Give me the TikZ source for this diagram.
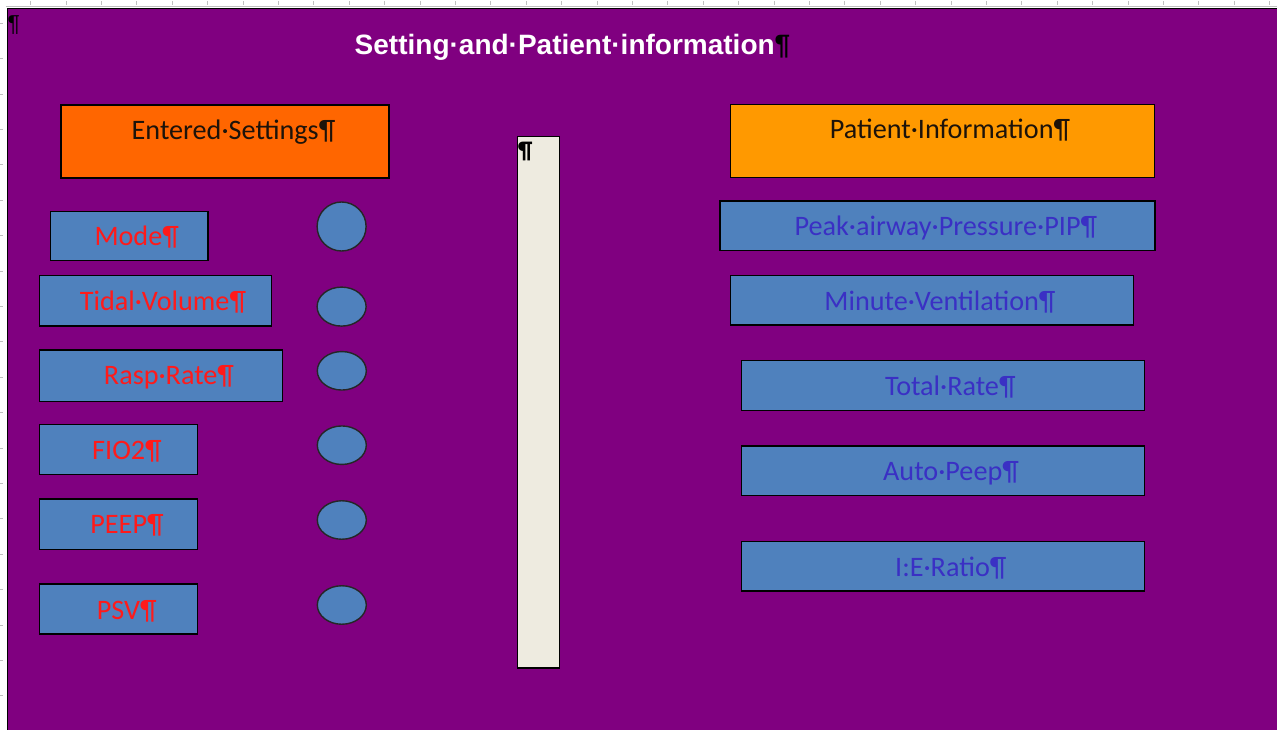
\documentclass[tikz,border=0pt]{standalone}
\usepackage{fontspec}
\usetikzlibrary{shapes.geometric}
\newfontfamily\calfont{Carlito}
\newfontfamily\arifont{Liberation Sans}
\definecolor{bgpurple}{HTML}{800080}
\definecolor{boxblue}{HTML}{4F81BD}
\definecolor{darkorange}{HTML}{FF6600}
\definecolor{lightorange}{HTML}{FF9900}
\definecolor{barbeige}{HTML}{EEEBE0}
\definecolor{txtred}{HTML}{FF1A1A}
\definecolor{txtblue}{HTML}{3A30C4}
\definecolor{rulergray}{HTML}{C0C0C0}
\tikzset{
  bbox/.style={draw=black, line width=1.4pt, inner sep=0pt, outer sep=0pt, anchor=north west, fill=boxblue},
  obox/.style={bbox, fill=darkorange},
  lobox/.style={bbox, fill=lightorange},
  dotshape/.style={draw=black!85, line width=1.4pt, fill=boxblue, ellipse, inner sep=0pt, outer sep=0pt},
  redtxt/.style={anchor=base, inner sep=0pt, text=txtred, font=\calfont\fontsize{28.2}{31}\selectfont},
  bluetxt/.style={anchor=base, inner sep=0pt, text=txtblue, font=\calfont\fontsize{28.2}{31}\selectfont},
  blacktxt/.style={anchor=base, inner sep=0pt, text=black!85!brown, font=\calfont\fontsize{28.2}{31}\selectfont},
  tick/.style={draw=rulergray, line width=1pt}
}
\begin{document}
\begin{tikzpicture}[x=1pt,y=-1pt]
\useasboundingbox (0,0) rectangle (1277,730);
\fill[white] (0,0) rectangle (1277,730);
% ruler ticks
\foreach \i in {0,...,35} { \draw[tick] ({30.7+35.4*\i},1) -- ({30.7+35.4*\i},5); }
\foreach \i in {0,...,19} { \draw[tick] (0,{23.3+35.4*\i}) -- (3,{23.3+35.4*\i}); }
\draw[rulergray, line width=1pt] (6,7) -- (1277,7);
% purple page
\fill[bgpurple] (7.3,8.3) rectangle (1277,730);
\draw[black, line width=1.5pt] (7.3,730) -- (7.3,8.3) -- (1277,8.3);
% corner pilcrow
\node[anchor=base west, inner sep=0pt, font=\arifont\fontsize{23}{26}\selectfont] (cornerpil) at (7.5,31.5) {¶};
% title
\node[anchor=base, inner sep=0pt, text=white, font=\arifont\bfseries\fontsize{28}{32}\selectfont] (title) at (572.5,54.3) {Setting·and·Patient·information{\color{black}¶}};
% header boxes
\node[obox, minimum width=328, minimum height=73] (entered) at (61,105) {};
\node[blacktxt] (tentered) at (233.5,140) {Entered·Settings¶};
\node[lobox, minimum width=423.5, minimum height=72.5] (patient) at (730.7,104.8) {};
\node[blacktxt] (tpatient) at (950,139) {Patient·Information¶};
% left boxes
\node[bbox, minimum width=157.3, minimum height=49] (mode) at (50.7,211.7) {};
\node[redtxt] (tmode) at (136.7,245) {Mode¶};
\node[bbox, minimum width=232.4, minimum height=50.3] (tidal) at (39.3,275.7) {};
\node[redtxt] (ttidal) at (163,310) {Tidal·Volume¶};
\node[bbox, minimum width=243.4, minimum height=51.3] (rasp) at (39.3,350) {};
\node[redtxt] (trasp) at (169,384.3) {Rasp·Rate¶};
\node[bbox, minimum width=158, minimum height=50] (fio) at (39.3,424.7) {};
\node[redtxt] (tfio) at (127,459) {FIO2¶};
\node[bbox, minimum width=158, minimum height=50.3] (peep) at (39.3,499) {};
\node[redtxt] (tpeep) at (127,533.3) {PEEP¶};
\node[bbox, minimum width=158, minimum height=50] (psv) at (39.3,584) {};
\node[redtxt] (tpsv) at (126.7,619.3) {PSV¶};
% dots
\node[dotshape, minimum width=49, minimum height=49] (d1) at (341.6,226.5) {};
\node[dotshape, minimum width=49, minimum height=39] (d2) at (341.6,306.6) {};
\node[dotshape, minimum width=49, minimum height=38.5] (d3) at (341.8,370.8) {};
\node[dotshape, minimum width=49, minimum height=38.5] (d4) at (341.8,445.2) {};
\node[dotshape, minimum width=49, minimum height=38.5] (d5) at (341.8,520) {};
\node[dotshape, minimum width=49, minimum height=38.5] (d6) at (341.8,605) {};
% center bar
\node[draw=black, line width=1.4pt, fill=barbeige, inner sep=0pt, outer sep=0pt, anchor=north west, minimum width=42.4, minimum height=531.7] (bar) at (517.3,136.3) {};
\node[anchor=base west, inner sep=0pt, text=black, font=\calfont\bfseries\fontsize{24}{27}\selectfont] (barpil) at (518,158.5) {¶};
% right boxes
\node[bbox, minimum width=435, minimum height=49.3] (pip) at (720,201) {};
\node[bluetxt] (tpip) at (945.8,235.7) {Peak·airway·Pressure·PIP¶};
\node[bbox, minimum width=402.6, minimum height=49.3] (minute) at (730.7,275.7) {};
\node[bluetxt] (tminute) at (940,310) {Minute·Ventilation¶};
\node[bbox, minimum width=402.6, minimum height=49.6] (total) at (741.7,360.7) {};
\node[bluetxt] (ttotal) at (950.3,395) {Total·Rate¶};
\node[bbox, minimum width=402.6, minimum height=49.3] (auto) at (741.7,446) {};
\node[bluetxt] (tauto) at (951,480) {Auto·Peep¶};
\node[bbox, minimum width=402.6, minimum height=49.3] (ie) at (741.7,541.7) {};
\node[bluetxt] (tie) at (950.8,576) {I:E·Ratio¶};
\end{tikzpicture}
\end{document}
